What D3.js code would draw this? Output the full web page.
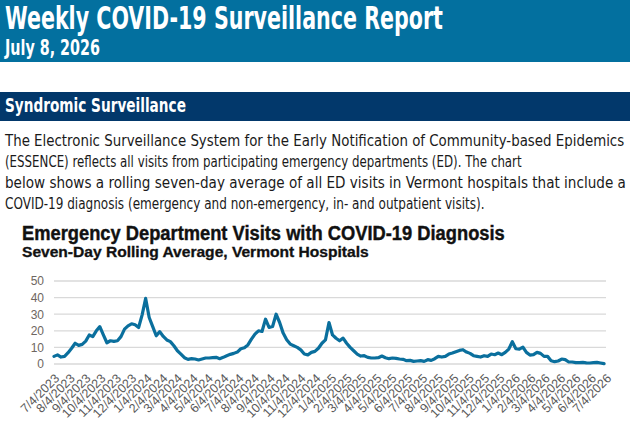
<!DOCTYPE html>
<html>
<head>
<meta charset="utf-8">
<script src="https://cdn.jsdelivr.net/npm/d3@7/dist/d3.min.js"></script>
<style>
  body { margin: 0; background: #fff; }
  svg { display: block; }
</style>
</head>
<body>
<div id="page"></div>
<script>
// report text
var reportTitle = "Weekly COVID-19 Surveillance Report";
var reportDate = "July 8, 2026";
var sectionTitle = "Syndromic Surveillance";
var paragraphLines = [
  "The Electronic Surveillance System for the Early Notification of Community-based Epidemics",
  "(ESSENCE) reflects all visits from participating emergency departments (ED). The chart",
  "below shows a rolling seven-day average of all ED visits in Vermont hospitals that include a",
  "COVID-19 diagnosis (emergency and non-emergency, in- and outpatient visits)."
];
var chartTitle = "Emergency Department Visits with COVID-19 Diagnosis";
var chartSubtitle = "Seven-Day Rolling Average, Vermont Hospitals";

// data: weekly readings of the 7-day average, starting 7/4/2023
var firstWeek = "2023-07-04";
var lastTick = "2026-07-04";
var year1 = [4.6, 5.5, 4.2, 4.6, 6.8, 9.5, 12.5, 11.2, 11.8, 13.8, 17.5, 16.5, 20,
  22.5, 17.6, 12.8, 14, 13.6, 14, 16.5, 21, 23, 24.2, 23.6, 22, 29.6, 39.5,
  28, 22.5, 17, 19.5, 16.6, 14.5, 13.5, 11, 8, 6, 3.8, 2.8, 3.2, 3, 2.4,
  3, 3.6, 3.6, 3.8, 4, 3.2, 4, 5, 5.8, 6.4];
var year2 = [7.2, 9.2, 9.8, 11.5, 15, 18, 20, 19.6, 27, 22, 22.6, 30, 25,
  18.6, 14.6, 12, 11, 10, 8.5, 6, 5.5, 7, 7.6, 9.5, 12.5, 14.5, 25,
  17.5, 15.5, 14, 15.6, 12.5, 10, 8, 6, 4.8, 5, 4, 3.6, 3.6, 3.8, 4.8,
  3.8, 3.2, 3.6, 3.4, 3, 2.8, 2, 2.2, 1.6, 1.8];
var year3 = [2, 1.6, 2.6, 2.2, 3.2, 4.6, 4.2, 4.6, 6, 6.6, 7.4, 8.2, 8.6,
  7.2, 6.4, 5, 4.6, 4.2, 5, 4.6, 6, 5.6, 6.6, 5.6, 7, 9, 13.4,
  9.2, 9, 10.2, 7, 5.4, 5.6, 7, 6.4, 4.6, 4.6, 2, 1.4, 1.8, 3, 2.6,
  1.2, 1.2, 0.8, 0.8, 1, 0.7, 0.6, 0.8, 1, 0.6, 0.2];
var yTicks = [0, 10, 20, 30, 40, 50];

var W = 630, H = 426;
var headerBlue = "#03709f", navy = "#02386b", lineBlue = "#0a6f9d";
var narrow = "'Liberation Sans Narrow', 'DejaVu Sans Condensed', 'Arial Narrow', sans-serif";
var sans = "'Liberation Sans', Arial, sans-serif";

var svg = d3.select("#page").append("svg")
    .attr("width", W)
    .attr("height", H)
    .style("background", "white");

// squeeze/stretch a text horizontally so it spans the given width
function fitText(g, x, y, width, str, family, size, weight, fill) {
    var t = g.append("text")
        .attr("font-family", family)
        .attr("font-size", size)
        .attr("font-weight", weight)
        .attr("fill", fill)
        .text(str);
    var natural = t.node().getComputedTextLength();
    t.attr("transform", "translate(" + x + "," + y + ") scale(" + (width / natural) + ",1)");
    return t;
}

// header band
svg.append("rect").attr("x", 0).attr("y", 0).attr("width", W).attr("height", 62).attr("fill", headerBlue);
fitText(svg, 5, 29, 438, reportTitle, narrow, 32, "bold", "white");
fitText(svg, 5, 55, 95, reportDate, narrow, 21, "bold", "white");

// section bar
svg.append("rect").attr("x", 0).attr("y", 92).attr("width", W).attr("height", 29).attr("fill", navy);
fitText(svg, 5, 112, 181, sectionTitle, narrow, 20, "bold", "white");

// paragraph
var lineWidths = [620, 517, 621, 480];
paragraphLines.forEach(function (d, i) {
    fitText(svg, 5, 146 + i * 21, lineWidths[i], d, narrow, 16.5, "normal", "#1a1a1a");
});

// chart titles
fitText(svg, 22, 240, 483, chartTitle, sans, 19.5, "bold", "#111")
    .attr("stroke", "#111").attr("stroke-width", 0.4);
fitText(svg, 22, 257, 347, chartSubtitle, sans, 14, "bold", "#111")
    .attr("stroke", "#111").attr("stroke-width", 0.3);

// chart
var parse = d3.timeParse("%Y-%m-%d");
var t0 = parse(firstWeek), t1 = parse(lastTick);
var values = year1.concat(year2, year3);
var series = values.map(function (v, i) {
    return { date: d3.timeWeek.offset(t0, i), value: v };
});

var x = d3.scaleTime().domain([t0, t1]).range([54, 606]);
var y = d3.scaleLinear().domain([0, 50]).range([364, 281]);

svg.append("g").selectAll("line")
    .data(yTicks)
    .enter().append("line")
    .attr("x1", 54).attr("x2", 606)
    .attr("y1", function (d) { return y(d); })
    .attr("y2", function (d) { return y(d); })
    .attr("stroke", "#d9d9d9")
    .attr("stroke-width", 1.3);

svg.append("g").selectAll("text")
    .data(yTicks)
    .enter().append("text")
    .attr("x", 44)
    .attr("y", function (d) { return y(d); })
    .attr("dy", "0.36em")
    .attr("text-anchor", "end")
    .attr("font-family", sans).attr("font-size", 12)
    .attr("fill", "#6e6660")
    .text(function (d) { return d; });

var monthTicks = d3.range(37).map(function (i) { return d3.timeMonth.offset(t0, i); });
var fmt = function (d) { return (d.getMonth() + 1) + "/" + d.getDate() + "/" + d.getFullYear(); };

svg.append("g").selectAll("text")
    .data(monthTicks)
    .enter().append("text")
    .attr("transform", function (d) { return "translate(" + (x(d) + 3) + ",376) rotate(-45)"; })
    .attr("dy", "0.35em")
    .attr("text-anchor", "end")
    .attr("font-family", sans).attr("font-size", 12.5)
    .attr("fill", "#595959")
    .text(fmt);

var line = d3.line()
    .x(function (d) { return x(d.date); })
    .y(function (d) { return y(d.value); });

svg.append("path")
    .datum(series)
    .attr("d", line)
    .attr("fill", "none")
    .attr("stroke", lineBlue)
    .attr("stroke-width", 3.2)
    .attr("stroke-linejoin", "round")
    .attr("stroke-linecap", "round");
</script>
</body>
</html>
